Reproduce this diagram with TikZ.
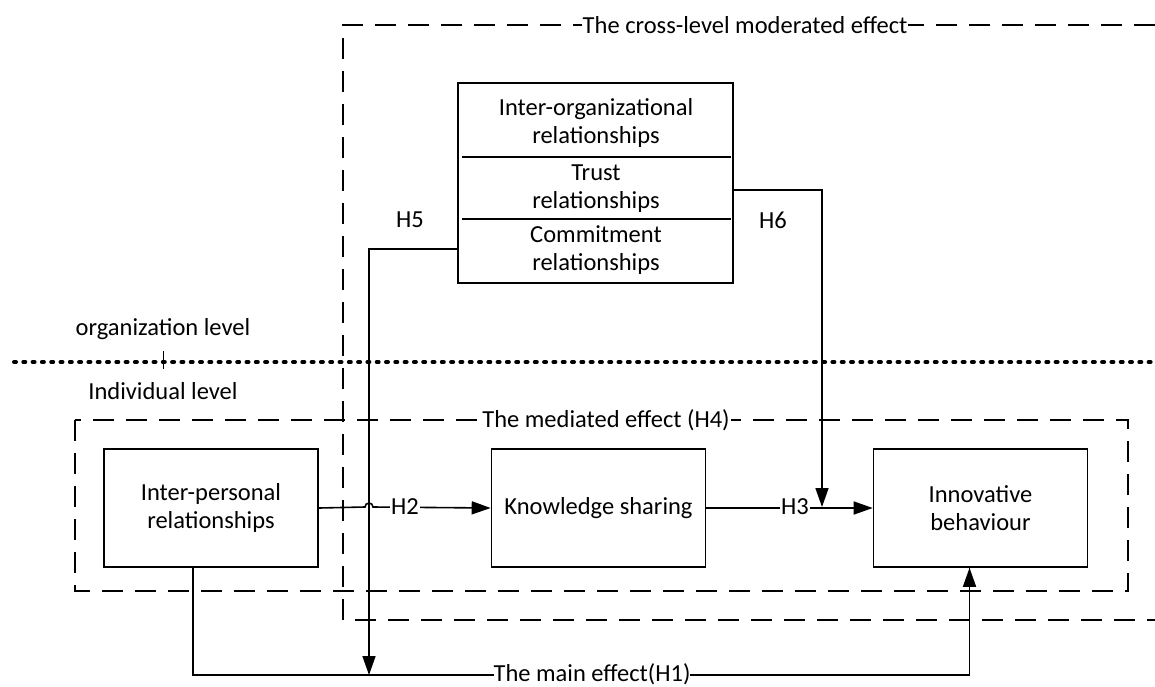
\documentclass[tikz,border=0pt]{standalone}
\usepackage{fontspec}
\setmainfont{Carlito}
\usetikzlibrary{arrows.meta}
\begin{document}
\begin{tikzpicture}[x=1pt,y=-1pt,>={Triangle[length=19pt,width=13pt]},line width=1.6pt,
		every node/.style={font=\fontsize{24.5}{28}\selectfont},
		box/.style={draw,minimum width=214pt,minimum height=118pt,align=center},
		frame/.style={dash pattern=on 21pt off 12pt,line width=1.3pt},
		lab/.style={fill=white,inner sep=1pt}]
	\useasboundingbox (0,0) rectangle (1155,686);
	% levels
	\draw[line width=4pt,line cap=round,dash pattern=on 2pt off 7.3pt] (14,362) -- (1155,362);
	\draw[line width=1pt] (163,351) -- (163,369);
	\node (orglv) at (163,329) {organization level};
	\node (indlv) at (163,391) {Individual level};
	% dashed frames
	\draw[frame] (1155,25) -- (343,25) -- (343,620) -- (1155,620);
	\node[lab] (cross) at (745,25) {The cross-level moderated effect};
	\draw[frame] (75,420) rectangle (1128,591);
	\node[lab] (med) at (606,420) {The mediated effect (H4)};
	% boxes
	\node[draw,minimum width=275pt,minimum height=200pt] (org) at (595.5,183) {};
	\draw (462,157) -- (731,157) (462,219) -- (731,219);
	\node[align=center] (org1) at (596,123) {Inter-organizational\\relationships};
	\node[align=center] (org2) at (596,189) {Trust\\relationships};
	\node[align=center] (org3) at (596,250) {Commitment\\relationships};
	\node[box] (ip) at (211,508) {Inter-personal\\relationships};
	\node[box] (ks) at (598.5,508) {Knowledge sharing};
	\node[box] (ib) at (980.5,508) {Innovative\\behaviour};
	% paths
	\coordinate (h5end) at (369,675);
	\coordinate (h6end) at (822,507);
	\draw ([xshift=-18pt]ip.south) |- (h5end) -| ([xshift=-11pt]ib.south);
	\draw[->] ([xshift=-11pt]ib.south |- h5end) -- ([xshift=-11pt]ib.south);
	\node[lab,inner sep=0pt,anchor=base] (h1) at (592,681) {The main effect(H1)};
	\draw[->] ([yshift=-66pt]org.west) -| (h5end);
	\draw[->] ([yshift=-7pt]org.east) -| (h6end);
	\draw[->] (ip.east) -- (365,507) arc (180:360:4) -- (ks.west);
	\draw[->] (ks.east) -- (ib.west);
	\node[lab] (h2) at (405,507) {H2};
	\node[lab] (h3) at (795,507) {H3};
	\node (h5) at (410,220) {H5};
	\node (h6) at (773,220) {H6};
\end{tikzpicture}
\end{document}
